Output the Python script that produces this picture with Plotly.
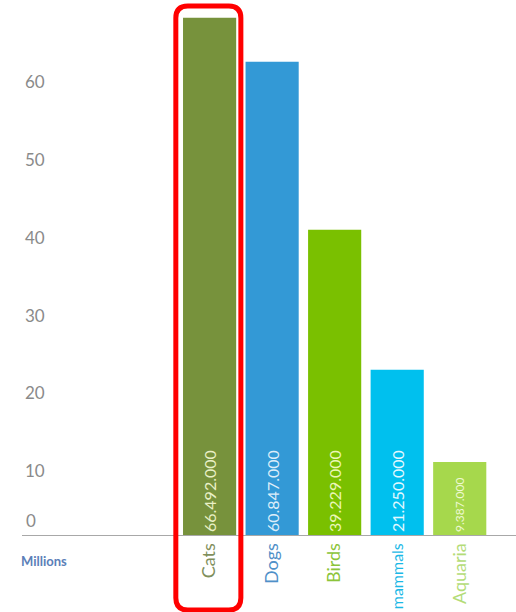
import plotly.graph_objects as go

# Pet population (millions)
categories = ["Cats", "Dogs", "Birds", "mammals", "Aquaria"]
values = [66.492, 60.847, 39.229, 21.250, 9.387]
bar_colors = ["#77923c", "#3399d6", "#7ac000", "#00c0ee", "#a6d84c"]
label_colors = ["#7f8f5c", "#4f90c8", "#8cc43a", "#1bb8e6", "#b4dc78"]
text_colors = ["#e9f0c6", "#dcedf9", "#eaf6b8", "#e2f8ff", "#eef8d2"]
label_sizes = [18, 18, 18, 16, 18]
value_sizes = [16, 16, 16, 16, 12]
y_ticks = [10, 20, 30, 40, 50, 60]

W, H = 516, 612
ML, MR, MT, MB = 22, 0, 0, 77
x_range = [-3.0, 4.9]
y_range = [0, 68.77]

value_labels = [f"{round(v * 1e6):,}".replace(",", ".") for v in values]
tick_text = [f'<span style="color:{c};font-size:{s}px">{n}</span>'
             for n, c, s in zip(categories, label_colors, label_sizes)]

fig = go.Figure(
    go.Bar(
        x=categories,
        y=values,
        width=0.85,
        marker=dict(color=bar_colors, line=dict(width=0)),
        text=value_labels,
        textposition="inside",
        insidetextanchor="start",
        textangle=-90,
        insidetextfont=dict(family="Lato", size=value_sizes, color=text_colors),
        hoverinfo="skip",
    )
)

# helpers: data -> paper coordinates for the highlight frame
def px(xv):
    return (xv - x_range[0]) / (x_range[1] - x_range[0])

def py(yv):
    return (yv - y_range[0]) / (y_range[1] - y_range[0])

pw = W - ML - MR
ph = H - MT - MB
x0, x1 = px(-0.54), px(0.50)
y0, y1 = py(-9.65), py(68.0)
rx, ry = 12 / pw, 12 / ph
frame = (
    f"M {x0 + rx} {y1} L {x1 - rx} {y1} Q {x1} {y1} {x1} {y1 - ry} "
    f"L {x1} {y0 + ry} Q {x1} {y0} {x1 - rx} {y0} "
    f"L {x0 + rx} {y0} Q {x0} {y0} {x0} {y0 + ry} "
    f"L {x0} {y1 - ry} Q {x0} {y1} {x0 + rx} {y1} Z"
)
fig.add_shape(type="path", path=frame, xref="paper", yref="paper",
              line=dict(color="#ff0000", width=5), fillcolor="rgba(0,0,0,0)")

fig.add_annotation(text="Millions", xref="paper", yref="paper", x=0, y=py(-3.3),
                   xanchor="left", yanchor="middle", xshift=-3, showarrow=False,
                   font=dict(family="Lato", size=13, color="#5b80b8", weight="bold"))
fig.add_annotation(text="0", xref="paper", yref="y", x=0, y=0, xanchor="left",
                   yanchor="bottom", xshift=2, yshift=2, showarrow=False,
                   font=dict(family="Lato", size=17, color="#8a8a8a"))

fig.update_layout(
    width=W, height=H,
    margin=dict(l=ML, r=MR, t=MT, b=MB),
    plot_bgcolor="white", paper_bgcolor="white",
    showlegend=False,
    xaxis=dict(
        range=x_range, type="category",
        tickmode="array", tickvals=categories, ticktext=tick_text,
        tickangle=-90, tickfont=dict(family="Lato", size=18),
        showline=True, linecolor="#a8a8a8", linewidth=1,
        showgrid=False, ticks="", automargin=False,
    ),
    yaxis=dict(
        range=y_range, tickmode="array", tickvals=y_ticks,
        ticklabelposition="inside", ticklabelshift=14,
        tickfont=dict(family="Lato", size=17, color="#8a8a8a"),
        showgrid=False, zeroline=False, showline=False, ticks="",
        automargin=False,
    ),
)

fig.write_html("out.html", config={"displayModeBar": False})
